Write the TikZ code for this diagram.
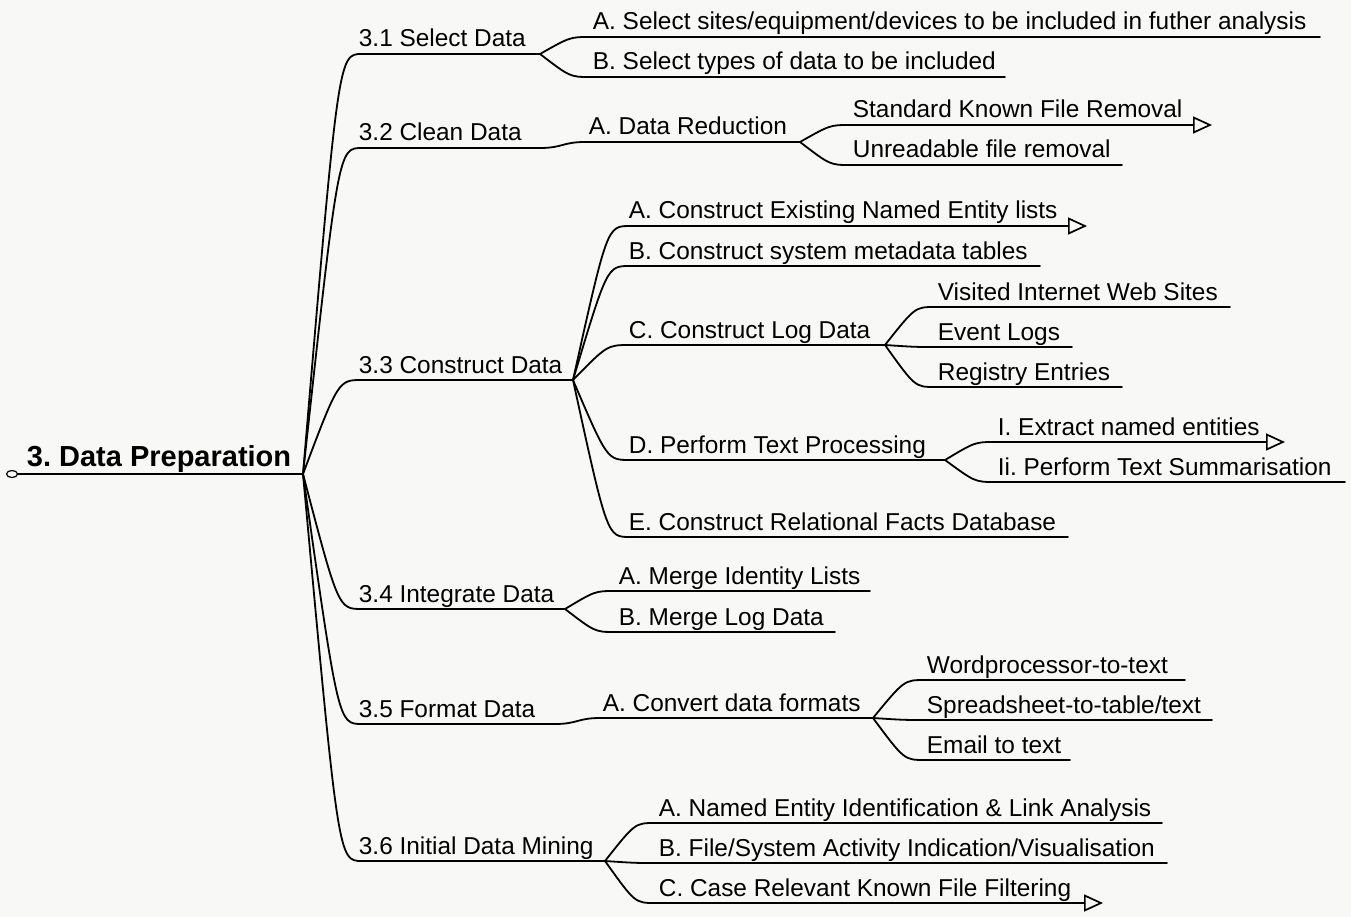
\documentclass[tikz,border=0pt]{standalone}
\usepackage{fontspec}
\setmainfont{Liberation Sans}
\usetikzlibrary{arrows.meta,shapes.geometric,calc}
\definecolor{bgcol}{RGB}{248,248,246}
\tikzset{
  lw/.style={line width=1.8pt, line cap=round},
  lbl/.style={anchor=base west, inner sep=0pt, font=\fontsize{24.4}{28}\selectfont\frenchspacing},
  rootlbl/.style={anchor=base west, inner sep=0pt, font=\fontsize{29}{33}\selectfont\bfseries\frenchspacing},
  branch/.style={to path={let \p1=(\tikztostart),\p2=(\tikztotarget) in .. controls ({\x1+0.6*(\x2-\x1)},\y2) .. (\tikztotarget)}},
  sbranch/.style={to path={let \p1=(\tikztostart),\p2=(\tikztotarget) in .. controls ({0.5*(\x1+\x2)},\y1) and ({0.5*(\x1+\x2)},\y2) .. (\tikztotarget)}},
  tip/.style={-{Triangle[open,length=19pt,width=17pt,line width=1.7pt]}},
}
\begin{document}
\begin{tikzpicture}[x=1pt,y=-1pt,lw]
\fill[bgcol] (0,0) rectangle (1351,917);
\useasboundingbox (0,0) rectangle (1351,917);

% root
\node[draw, ellipse, line width=1.2pt, minimum width=11pt, minimum height=7pt, inner sep=0pt] (knob) at (12,474) {};
\coordinate (f0) at (303,474);
\node[rootlbl] (t0) at (26,466) {3. Data Preparation};
\draw (knob.east) -- (f0);

% 3.1
\coordinate (s31) at (362,54); \coordinate (e31) at (540,54);
\node[lbl] (t31) at (358,47) {3.1 Select Data};
\draw (f0) to[branch] (s31) -- (e31);
\coordinate (s31a) at (590,37); \coordinate (e31a) at (1320,37);
\node[lbl] (t31a) at (592,30) {A. Select sites/equipment/devices to be included in futher analysis};
\draw (e31) to[branch] (s31a) -- (e31a);
\coordinate (s31b) at (590,77); \coordinate (e31b) at (1005,77);
\node[lbl] (t31b) at (592,70) {B. Select types of data to be included};
\draw (e31) to[branch] (s31b) -- (e31b);

% 3.2
\coordinate (s32) at (362,148); \coordinate (e32) at (540,148);
\node[lbl] (t32) at (358,141) {3.2 Clean Data};
\draw (f0) to[branch] (s32) -- (e32);
\coordinate (s32a) at (585,142); \coordinate (e32a) at (800,142);
\node[lbl] (t32a) at (588,135) {A. Data Reduction};
\draw (e32) to[sbranch] (s32a) -- (e32a);
\coordinate (s32a1) at (850,125); \coordinate (e32a1) at (1212,125);
\node[lbl] (t32a1) at (852,118) {Standard Known File Removal};
\draw (e32a) to[branch] (s32a1);
\draw[tip] (s32a1) -- (e32a1);
\coordinate (s32a2) at (850,165); \coordinate (e32a2) at (1122,165);
\node[lbl] (t32a2) at (852,158) {Unreadable file removal};
\draw (e32a) to[branch] (s32a2) -- (e32a2);

% 3.3
\coordinate (s33) at (362,380); \coordinate (e33) at (573,380);
\node[lbl] (t33) at (358,373) {3.3 Construct Data};
\draw (f0) to[branch] (s33) -- (e33);
\coordinate (s33a) at (630,226); \coordinate (e33a) at (1087,226);
\node[lbl] (t33a) at (628,219) {A. Construct Existing Named Entity lists};
\draw (e33) to[branch] (s33a);
\draw[tip] (s33a) -- (e33a);
\coordinate (s33b) at (630,266); \coordinate (e33b) at (1040,266);
\node[lbl] (t33b) at (628,259) {B. Construct system metadata tables};
\draw (e33) to[branch] (s33b) -- (e33b);
\coordinate (s33c) at (630,345); \coordinate (e33c) at (885,345);
\node[lbl] (t33c) at (628,338) {C. Construct Log Data};
\draw (e33) to[branch] (s33c) -- (e33c);
\coordinate (s33c1) at (935,307); \coordinate (e33c1) at (1230,307);
\node[lbl] (t33c1) at (937,300) {Visited Internet Web Sites};
\draw (e33c) to[branch] (s33c1) -- (e33c1);
\coordinate (s33c2) at (935,347); \coordinate (e33c2) at (1072,347);
\node[lbl] (t33c2) at (937,340) {Event Logs};
\draw (e33c) to[branch] (s33c2) -- (e33c2);
\coordinate (s33c3) at (935,387); \coordinate (e33c3) at (1122,387);
\node[lbl] (t33c3) at (937,380) {Registry Entries};
\draw (e33c) to[branch] (s33c3) -- (e33c3);
\coordinate (s33d) at (630,460); \coordinate (e33d) at (945,460);
\node[lbl] (t33d) at (628,453) {D. Perform Text Processing};
\draw (e33) to[branch] (s33d) -- (e33d);
\coordinate (s33d1) at (995,442); \coordinate (e33d1) at (1285,442);
\node[lbl] (t33d1) at (997,435) {I. Extract named entities};
\draw (e33d) to[branch] (s33d1);
\draw[tip] (s33d1) -- (e33d1);
\coordinate (s33d2) at (995,482); \coordinate (e33d2) at (1345,482);
\node[lbl] (t33d2) at (997,475) {Ii. Perform Text Summarisation};
\draw (e33d) to[branch] (s33d2) -- (e33d2);
\coordinate (s33e) at (630,537); \coordinate (e33e) at (1068,537);
\node[lbl] (t33e) at (628,530) {E. Construct Relational Facts Database};
\draw (e33) to[branch] (s33e) -- (e33e);

% 3.4
\coordinate (s34) at (362,609); \coordinate (e34) at (565,609);
\node[lbl] (t34) at (358,602) {3.4 Integrate Data};
\draw (f0) to[branch] (s34) -- (e34);
\coordinate (s34a) at (615,591); \coordinate (e34a) at (870,591);
\node[lbl] (t34a) at (618,584) {A. Merge Identity Lists};
\draw (e34) to[branch] (s34a) -- (e34a);
\coordinate (s34b) at (615,632); \coordinate (e34b) at (835,632);
\node[lbl] (t34b) at (618,625) {B. Merge Log Data};
\draw (e34) to[branch] (s34b) -- (e34b);

% 3.5
\coordinate (s35) at (362,724); \coordinate (e35) at (555,724);
\node[lbl] (t35) at (358,717) {3.5 Format Data};
\draw (f0) to[branch] (s35) -- (e35);
\coordinate (s35a) at (600,718); \coordinate (e35a) at (873,718);
\node[lbl] (t35a) at (602,711) {A. Convert data formats};
\draw (e35) to[sbranch] (s35a) -- (e35a);
\coordinate (s35a1) at (925,680); \coordinate (e35a1) at (1185,680);
\node[lbl] (t35a1) at (926,673) {Wordprocessor-to-text};
\draw (e35a) to[branch] (s35a1) -- (e35a1);
\coordinate (s35a2) at (925,720); \coordinate (e35a2) at (1212,720);
\node[lbl] (t35a2) at (926,713) {Spreadsheet-to-table/text};
\draw (e35a) to[branch] (s35a2) -- (e35a2);
\coordinate (s35a3) at (925,760); \coordinate (e35a3) at (1070,760);
\node[lbl] (t35a3) at (926,753) {Email to text};
\draw (e35a) to[branch] (s35a3) -- (e35a3);

% 3.6
\coordinate (s36) at (362,861); \coordinate (e36) at (605,861);
\node[lbl] (t36) at (358,854) {3.6 Initial Data Mining};
\draw (f0) to[branch] (s36) -- (e36);
\coordinate (s36a) at (655,823); \coordinate (e36a) at (1162,823);
\node[lbl] (t36a) at (658,816) {A. Named Entity Identification \& Link Analysis};
\draw (e36) to[branch] (s36a) -- (e36a);
\coordinate (s36b) at (655,863); \coordinate (e36b) at (1167,863);
\node[lbl] (t36b) at (658,856) {B. File/System Activity Indication/Visualisation};
\draw (e36) to[branch] (s36b) -- (e36b);
\coordinate (s36c) at (655,903); \coordinate (e36c) at (1103,903);
\node[lbl] (t36c) at (658,896) {C. Case Relevant Known File Filtering};
\draw (e36) to[branch] (s36c);
\draw[tip] (s36c) -- (e36c);
\end{tikzpicture}
\end{document}
